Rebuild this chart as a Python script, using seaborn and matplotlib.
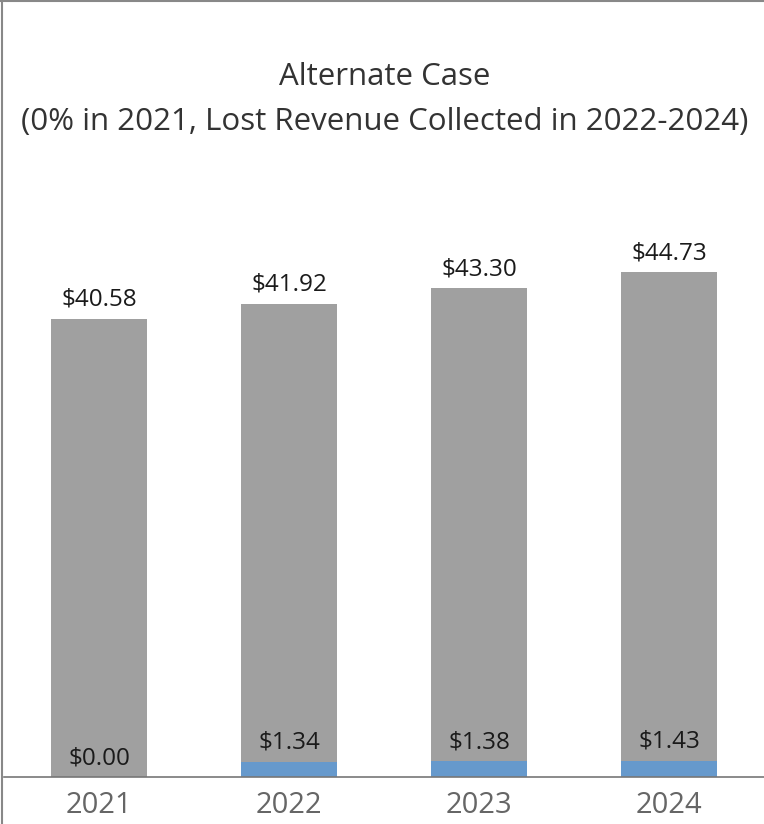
import matplotlib
matplotlib.use("Agg")
import matplotlib.pyplot as plt
from matplotlib.lines import Line2D
import seaborn as sns
import pandas as pd

years = ["2021", "2022", "2023", "2024"]
total_revenue = [40.58, 41.92, 43.30, 44.73]
lost_revenue_collected = [0.00, 1.34, 1.38, 1.43]
title_lines = ["Alternate Case", "(0% in 2021, Lost Revenue Collected in 2022-2024)"]

df = pd.DataFrame({"year": years, "total": total_revenue, "lost": lost_revenue_collected})

sns.set_theme(style="white")
plt.rcParams["font.family"] = ["Open Sans", "DejaVu Sans"]

W, H = 764, 824
fig = plt.figure(figsize=(W / 100, H / 100), dpi=100)
ax = fig.add_axes([4 / W, (H - 777) / H, (W - 4) / W, (777 - 200) / H])

sns.barplot(data=df, x="year", y="total", color="#A0A0A0", saturation=1, width=0.505,
            linewidth=0, edgecolor="none", ax=ax)
sns.barplot(data=df, x="year", y="lost", color="#6699CC", saturation=1, width=0.505,
            linewidth=0, edgecolor="none", ax=ax)

ax.set_xlim(-0.5, 3.5)
ax.set_ylim(0, (777 - 200) / 11.29)
ax.set_xlabel("")
ax.set_ylabel("")
ax.set_yticks([])
for s in ["top", "right", "left"]:
    ax.spines[s].set_visible(False)
ax.spines["bottom"].set_color("#777777")
ax.spines["bottom"].set_linewidth(1.2)
ax.tick_params(axis="x", length=0, pad=10, labelsize=21, labelcolor="#666666")

for i, (t, l) in enumerate(zip(total_revenue, lost_revenue_collected)):
    ax.annotate(f"${t:.2f}", (i, t), xytext=(0, 5), textcoords="offset points",
                ha="center", va="bottom", fontsize=17.5, color="#1a1a1a")
    ax.annotate(f"${l:.2f}", (i, l), xytext=(0, 5), textcoords="offset points",
                ha="center", va="bottom", fontsize=17.5, color="#1a1a1a")

fig.text(0.504, 1 - 77 / H, title_lines[0], ha="center", va="center", fontsize=22.5, color="#333333")
fig.text(0.504, 1 - 122 / H, title_lines[1], ha="center", va="center", fontsize=22.5, color="#333333")

# frame lines (left and top)
fig.add_artist(Line2D([2 / W, 2 / W], [0, 1], transform=fig.transFigure, color="#888888", lw=1.5))
fig.add_artist(Line2D([0, 1], [1 - 0.5 / H, 1 - 0.5 / H], transform=fig.transFigure, color="#888888", lw=1.5))

fig.savefig("out.png", dpi=100)
